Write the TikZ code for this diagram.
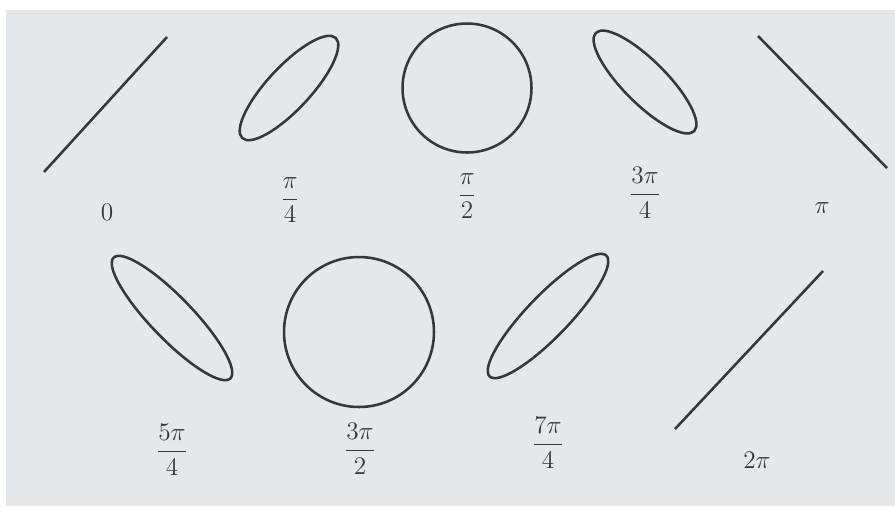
\documentclass[tikz,border=0pt]{standalone}
\usepackage{amsmath}
\definecolor{paper}{RGB}{229,232,235}
\definecolor{ink}{RGB}{55,55,55}

\begin{document}
\begin{tikzpicture}[
  x=0.02cm, y=-0.02cm,
  curve/.style={draw=ink, line width=1.45pt},
  phase/.style={text=ink, inner sep=0pt, font=\fontsize{14.5}{16}\selectfont}
]
\useasboundingbox (0,0) rectangle (895,508);
\fill[white] (0,0) rectangle (895,508);
\fill[paper] (6,10) rectangle (895,506);

% upper row
\draw[curve] (44,172) -- (167,37);
\draw[curve, rotate around={47:(289,88)}] (289,88) ellipse [x radius=1.37cm, y radius=0.43cm];
\draw[curve] (467,88) circle [radius=1.29cm];
\draw[curve, rotate around={-45:(645,82)}] (645,82) ellipse [x radius=1.39cm, y radius=0.43cm];
\draw[curve] (758,36) -- (887,168);

\node[phase] (p0) at (107,212) {$0$};
\node[phase] (p1) at (290,200) {$\dfrac{\pi}{4}$};
\node[phase] (p2) at (467,196) {$\dfrac{\pi}{2}$};
\node[phase] (p3) at (645,193) {$\dfrac{3\pi}{4}$};
\node[phase] (p4) at (822,208) {$\pi$};

% lower row
\draw[curve, rotate around={-46:(172,318)}] (172,318) ellipse [x radius=1.68cm, y radius=0.42cm];
\draw[curve] (359,332) circle [radius=1.5cm];
\draw[curve, rotate around={46:(548,316)}] (548,316) ellipse [x radius=1.68cm, y radius=0.42cm];
\draw[curve] (675,429) -- (823,271);

\node[phase] (p5) at (172,450) {$\dfrac{5\pi}{4}$};
\node[phase] (p6) at (360,449) {$\dfrac{3\pi}{2}$};
\node[phase] (p7) at (548,443) {$\dfrac{7\pi}{4}$};
\node[phase] (p8) at (757,460) {$2\pi$};
\end{tikzpicture}
\end{document}
